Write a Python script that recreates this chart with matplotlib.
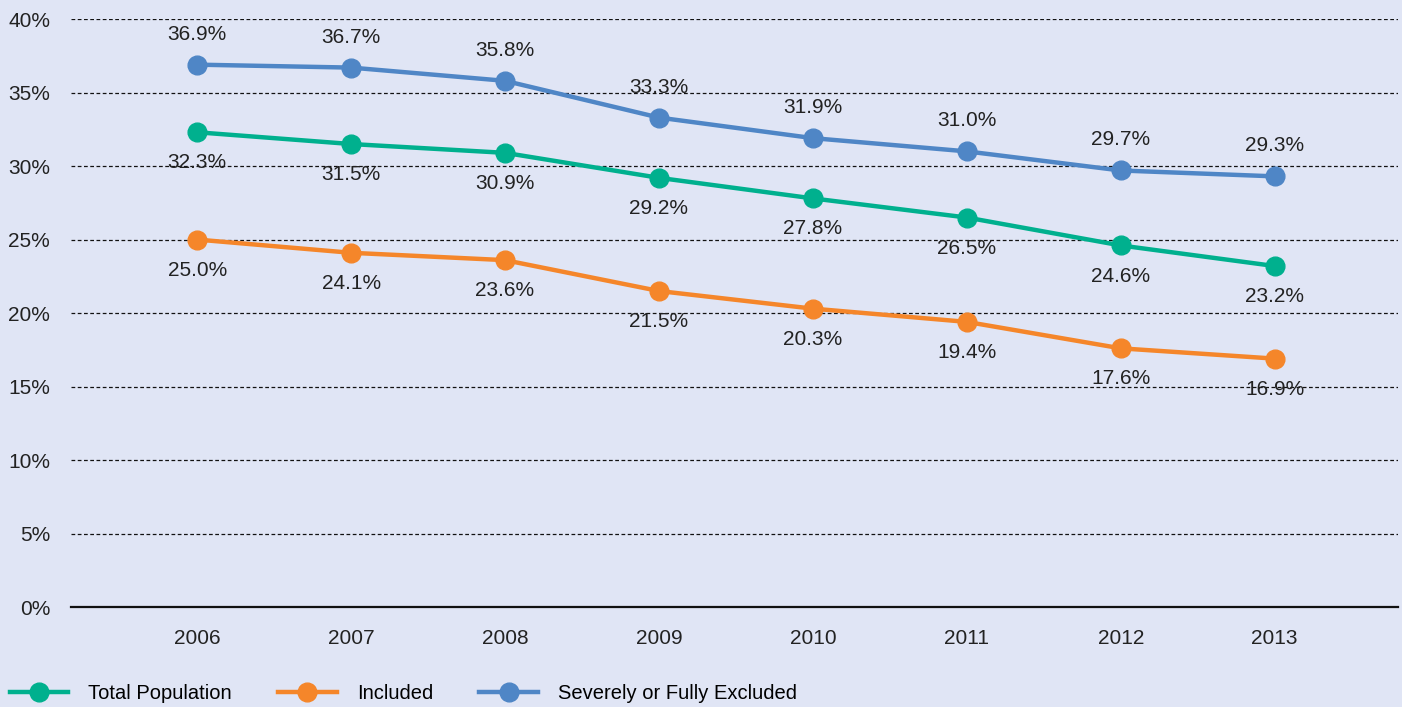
import numpy as np
import matplotlib
matplotlib.use("Agg")
import matplotlib.pyplot as plt

plt.rcParams['font.family'] = ['Liberation Sans', 'DejaVu Sans']

years = [2006, 2007, 2008, 2009, 2010, 2011, 2012, 2013]
total_population = [32.3, 31.5, 30.9, 29.2, 27.8, 26.5, 24.6, 23.2]
included = [25.0, 24.1, 23.6, 21.5, 20.3, 19.4, 17.6, 16.9]
excluded = [36.9, 36.7, 35.8, 33.3, 31.9, 31.0, 29.7, 29.3]

series = [
    ("Total Population", total_population, "#00B08E", -1),
    ("Included", included, "#F5862A", -1),
    ("Severely or Fully Excluded", excluded, "#4F86C6", 1),
]

bg = "#E0E5F5"
fig = plt.figure(figsize=(14.02, 7.07), dpi=100, facecolor=bg)
ax = fig.add_axes([0.0506, 0.1414, 0.9464, 0.8316], facecolor=bg)

for label, vals, color, side in series:
    ax.plot(years, vals, color=color, lw=3.2, marker="o", markersize=13.5,
            label=label, zorder=3)
    for x, v in zip(years, vals):
        ax.annotate(f"{v:.1f}%", (x, v), xytext=(0, 22 * side), textcoords="offset points",
                    ha="center", va="center", fontsize=15, color="#222222", zorder=4)

ax.set_xlim(2005.18, 2013.8)
ax.set_ylim(0, 40)
ax.set_yticks(np.arange(0, 41, 5))
ax.set_yticklabels([f"{t}%" for t in range(0, 41, 5)])
ax.set_xticks(years)
ax.tick_params(axis="both", length=0, labelsize=15, colors="#222222")
ax.tick_params(axis="x", pad=16)
ax.tick_params(axis="y", pad=15)

for s in ["top", "right", "left"]:
    ax.spines[s].set_visible(False)
ax.spines["bottom"].set_color("#111111")
ax.spines["bottom"].set_linewidth(1.6)

for t in range(5, 41, 5):
    ax.axhline(t, color="#111111", lw=0.9, ls=(0, (3, 2)), zorder=1)

handles, labels = ax.get_legend_handles_labels()
fig.legend(handles, labels, loc="lower left", bbox_to_anchor=(-0.006, -0.02), ncol=3,
           frameon=False, fontsize=14.5, handlelength=2.9, handletextpad=1.0,
           columnspacing=2.3)

fig.savefig("out.png", dpi=100, facecolor=bg)
